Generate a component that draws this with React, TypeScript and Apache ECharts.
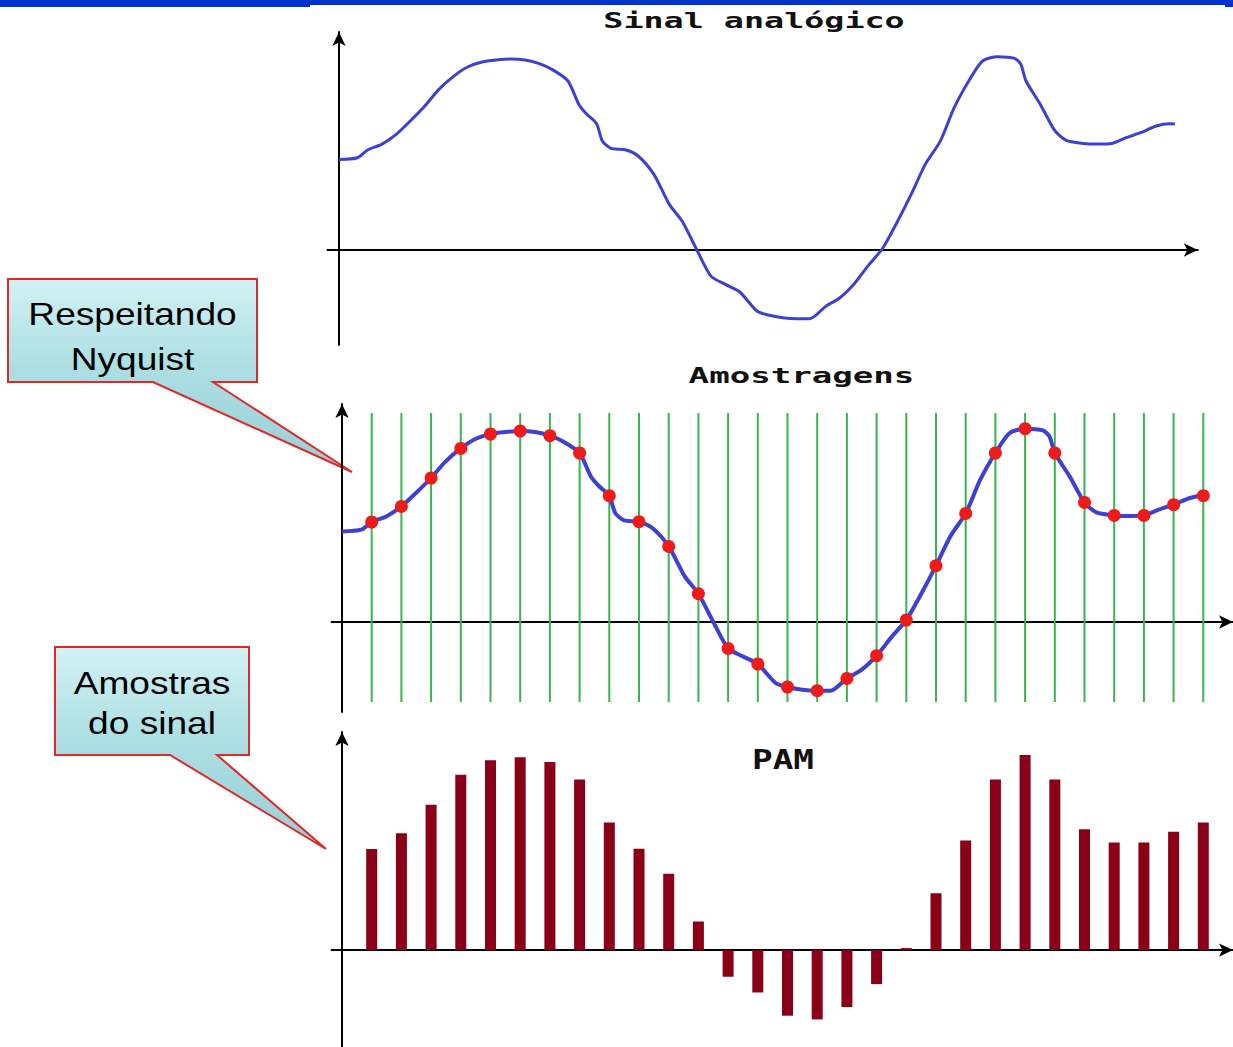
import React, { useEffect, useRef } from "react";
import * as echarts from "echarts";

// Analog signal: [time (sample periods), amplitude]
const analogSignal: [number, number][] = [
  [0, 0.906], [0.65, 0.923], [1, 1.0], [1.49, 1.056], [2, 1.156], [2.49, 1.29],
  [3, 1.44], [3.49, 1.606], [4, 1.736], [4.49, 1.83], [5, 1.88], [5.5, 1.9],
  [6, 1.91], [6.5, 1.9], [7, 1.863], [7.5, 1.796], [8, 1.69], [8.38, 1.456],
  [8.65, 1.36], [9, 1.263], [9.2, 1.09], [9.5, 1.016], [10, 1.003], [10.45, 0.94],
  [11, 0.756], [11.54, 0.456], [12, 0.283], [12.52, -0.01], [13, -0.264],
  [13.5, -0.344], [14, -0.42], [14.6, -0.61], [15, -0.65], [15.5, -0.677],
  [16, -0.687], [16.45, -0.687], [17, -0.564], [17.5, -0.477], [18, -0.337],
  [18.52, -0.144], [19, 0.02], [19.5, 0.28], [20, 0.563], [20.48, 0.856],
  [21, 1.086], [21.49, 1.423], [22, 1.69], [22.48, 1.89], [23, 1.933],
  [23.6, 1.916], [23.82, 1.856], [24, 1.69], [24.5, 1.456], [25, 1.196],
  [25.4, 1.096], [26, 1.066], [26.5, 1.06], [27, 1.066], [27.5, 1.123],
  [28, 1.173], [28.55, 1.24], [29, 1.263], [29.2, 1.26],
];

// Sampling instants and sampled amplitudes
const sampleTimes = [
  1, 2, 3, 4, 5, 6, 7, 8, 9, 10, 11, 12, 13, 14, 15, 16, 17, 18, 19, 20, 21, 22,
  23, 24, 25, 26, 27, 28, 29,
];
const sampleValues = [
  1.0, 1.156, 1.44, 1.736, 1.88, 1.91, 1.863, 1.69, 1.263, 1.003, 0.756, 0.283,
  -0.264, -0.42, -0.65, -0.687, -0.564, -0.337, 0.02, 0.563, 1.086, 1.69, 1.933,
  1.69, 1.196, 1.066, 1.066, 1.173, 1.263,
];

// Extent of the sampling-instant marker lines (amplitude units)
const markerTop = 2.09;
const markerBottom = -0.8;

const titles = ["Sinal analógico", "Amostragens", "PAM"];
const calloutNyquist = ["Respeitando", "Nyquist"];
const calloutSamples = ["Amostras", "do sinal"];

export default function App() {
  const ref = useRef<HTMLDivElement>(null);

  useEffect(() => {
    const chart = echarts.init(ref.current!, null, { renderer: "svg" });

    const samplePairs = sampleTimes.map((t, i) => [t, sampleValues[i]]);
    const axisLine = () => ({
      show: true,
      onZero: true,
      symbol: ["none", "arrow"],
      symbolSize: [10, 14],
      lineStyle: { color: "#000", width: 2 },
    });
    const mkAxis = (gridIndex: number, min: number, max: number) => ({
      type: "value",
      gridIndex,
      min,
      max,
      axisLine: axisLine(),
      axisTick: { show: false },
      axisLabel: { show: false },
      splitLine: { show: false },
    });

    const mkFill = () =>
      new echarts.graphic.LinearGradient(0, 0, 0, 1, [
        { offset: 0, color: "#d3f2f4" },
        { offset: 0.45, color: "#acdfe3" },
        { offset: 1, color: "#98cfd6" },
      ]);
    const titleStyle = (text: string, size: number) => ({
      text,
      fontFamily: "DejaVu Sans Mono",
      fontWeight: "bold",
      fontSize: size,
      fill: "#111",
      align: "center",
      verticalAlign: "middle",
    });
    const calloutText = (text: string) => ({
      text,
      fontFamily: "Liberation Sans, Arial, sans-serif",
      fontSize: 32,
      fill: "#000",
      align: "center",
      verticalAlign: "middle",
    });

    const option: any = {
      animation: false,
      backgroundColor: "#fff",
      grid: [
        { left: 327.5, top: 32, width: 870.3, height: 313 },
        { left: 331.6, top: 404, width: 906.2, height: 308 },
        { left: 331.6, top: 732, width: 906.2, height: 315 },
      ],
      xAxis: [mkAxis(0, -0.4, 30), mkAxis(1, -0.35, 30), mkAxis(2, -0.35, 30)],
      yAxis: [mkAxis(0, -0.95, 2.18), mkAxis(1, -0.9, 2.18), mkAxis(2, -0.96, 2.16)],
      series: [
        {
          type: "line",
          xAxisIndex: 0,
          yAxisIndex: 0,
          data: analogSignal,
          showSymbol: false,
          smooth: 0.25,
          lineStyle: { color: "#3d41d1", width: 3 },
          z: 3,
        },
        {
          type: "custom",
          xAxisIndex: 1,
          yAxisIndex: 1,
          silent: true,
          data: sampleTimes.map((t) => [t, markerTop, markerBottom]),
          renderItem: (_params: any, api: any) => {
            const p1 = api.coord([api.value(0), api.value(1)]);
            const p2 = api.coord([api.value(0), api.value(2)]);
            return {
              type: "line",
              shape: { x1: p1[0], y1: p1[1], x2: p2[0], y2: p2[1] },
              style: { stroke: "#3cb44b", lineWidth: 2 },
            };
          },
          z: 1,
        },
        {
          type: "line",
          xAxisIndex: 1,
          yAxisIndex: 1,
          data: analogSignal,
          showSymbol: false,
          smooth: 0.25,
          lineStyle: { color: "#3d41d1", width: 4 },
          z: 3,
        },
        {
          type: "scatter",
          xAxisIndex: 1,
          yAxisIndex: 1,
          data: samplePairs,
          symbol: "circle",
          symbolSize: 13,
          itemStyle: { color: "#ee1b1b", opacity: 1 },
          z: 4,
        },
        {
          type: "bar",
          xAxisIndex: 2,
          yAxisIndex: 2,
          data: samplePairs,
          barWidth: 11,
          itemStyle: { color: "#8a0019" },
          z: 2,
        },
      ],
      graphic: [
        { type: "rect", shape: { x: 0, y: 0, width: 310, height: 7 }, style: { fill: "#0033cc" } },
        { type: "rect", shape: { x: 310, y: 0, width: 915, height: 5 }, style: { fill: "#0033cc" } },
        { type: "rect", shape: { x: 1225, y: 0, width: 8, height: 7 }, style: { fill: "#0033cc" } },
        { type: "text", x: 754, y: 21, scaleX: 1.59, style: titleStyle(titles[0], 21) },
        { type: "text", x: 801.5, y: 375, scaleX: 1.55, style: titleStyle(titles[1], 22) },
        { type: "text", x: 783, y: 760, scaleX: 1.32, style: titleStyle(titles[2], 26) },
        {
          type: "polygon",
          shape: {
            points: [[8, 279], [257, 279], [257, 382], [213, 382], [352, 472], [153, 382], [8, 382]],
          },
          style: { fill: mkFill(), stroke: "#e02828", lineWidth: 2 },
        },
        { type: "text", x: 132.5, y: 314, scaleX: 1.16, style: calloutText(calloutNyquist[0]) },
        { type: "text", x: 132.5, y: 359, scaleX: 1.16, style: calloutText(calloutNyquist[1]) },
        {
          type: "polygon",
          shape: {
            points: [[55, 647], [249, 647], [249, 755], [217, 755], [326, 849], [170, 755], [55, 755]],
          },
          style: { fill: mkFill(), stroke: "#e02828", lineWidth: 2 },
        },
        { type: "text", x: 152, y: 683, scaleX: 1.16, style: calloutText(calloutSamples[0]) },
        { type: "text", x: 152, y: 723, scaleX: 1.16, style: calloutText(calloutSamples[1]) },
      ],
    };

    chart.setOption(option);
    return () => chart.dispose();
  }, []);

  return (
    <div
      ref={ref}
      style={{ position: "absolute", left: 0, top: 0, width: 1233, height: 1047, background: "#fff" }}
    />
  );
}
